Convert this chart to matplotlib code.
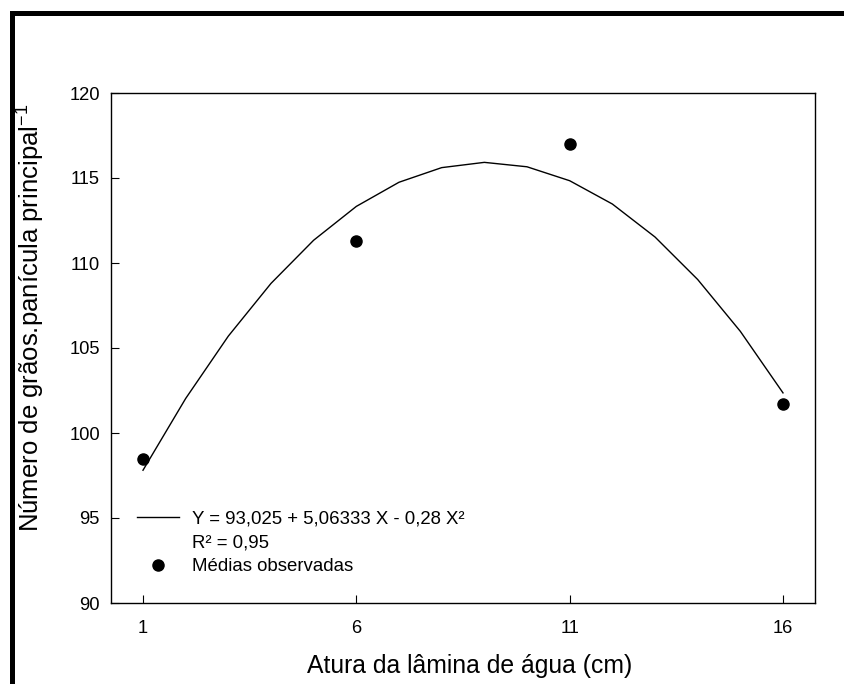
import numpy as np
import matplotlib.pyplot as plt
from matplotlib.lines import Line2D
from matplotlib.patches import Rectangle

plt.rcParams['font.family'] = ['Liberation Sans', 'DejaVu Sans']

# medias observadas
x_obs = [1, 6, 11, 16]
y_obs = [98.5, 111.3, 117.0, 101.7]

# curva ajustada (Y = 93,025 + 5,06333 X - 0,28 X²), valores nos inteiros
x_fit = [1, 2, 3, 4, 5, 6, 7, 8, 9, 10, 11, 12, 13, 14, 15, 16]
y_fit = [97.81, 102.03, 105.70, 108.80, 111.34, 113.33, 114.75, 115.61,
         115.92, 115.66, 114.84, 113.47, 111.53, 109.03, 105.98, 102.36]

xticks = [1, 6, 11, 16]
yticks = [90, 95, 100, 105, 110, 115, 120]

fig = plt.figure(figsize=(8.45, 6.84), dpi=100)
ax = fig.add_axes([111 / 845, 1 - 603 / 684, (815 - 111) / 845, (603 - 93) / 684])

ax.plot(x_fit, y_fit, color='black', lw=1.0)
ax.plot(x_obs, y_obs, 'o', color='black', markersize=8, linestyle='None')

ax.set_xlim(0.25, 16.75)
ax.set_ylim(90, 120)
ax.set_xticks(xticks)
ax.set_yticks(yticks)
ax.tick_params(direction='in', length=6, width=0.8, labelsize=13.2)
ax.tick_params(axis='y', pad=8)
ax.tick_params(axis='x', pad=12)
for s in ax.spines.values():
    s.set_linewidth(1.0)

ax.set_xlabel('Atura da lâmina de água (cm)', fontsize=17.8)
ax.xaxis.set_label_coords(0.51, -0.1)
ax.set_ylabel('Número de grãos.panícula principal$^{\\mathregular{-1}}$', fontsize=18.5)
ax.yaxis.set_label_coords(-0.092, 0.56)

handles = [
    Line2D([], [], color='black', lw=1.0),
    Line2D([], [], linestyle='None', marker=None),
    Line2D([], [], color='black', marker='o', markersize=8, linestyle='None'),
]
labels = ['Y = 93,025 + 5,06333 X - 0,28 X²', 'R² = 0,95', 'Médias observadas']
ax.legend(handles, labels, loc='lower left', bbox_to_anchor=(0.024, 0.036),
          frameon=False, fontsize=13.4, handlelength=2.26, handletextpad=0.7,
          labelspacing=0.36, borderpad=0)

# moldura da figura
fig.add_artist(Rectangle((12.5 / 845, -0.1), 1.2, 1.1 - 13 / 684,
                         transform=fig.transFigure, fill=False,
                         edgecolor='black', lw=3.6, clip_on=False))

fig.savefig('out.png', dpi=100)
